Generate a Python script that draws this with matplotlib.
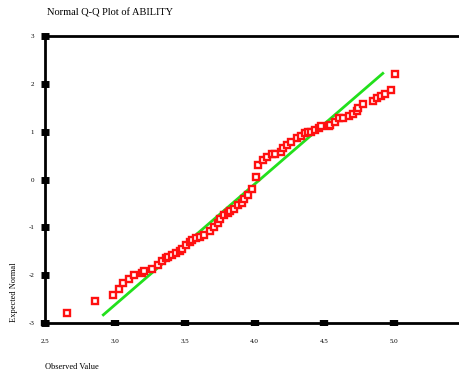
import matplotlib.pyplot as plt

# Normal Q-Q plot of ABILITY
observed = [2.654, 2.855, 2.984, 3.027, 3.056, 3.099, 3.135, 3.192, 3.207, 3.264,
            3.307, 3.336, 3.364, 3.379, 3.407, 3.436, 3.465, 3.479, 3.508, 3.537,
            3.551, 3.580, 3.608, 3.637, 3.680, 3.709, 3.738, 3.752, 3.781, 3.809,
            3.824, 3.852, 3.881, 3.910, 3.924, 3.953, 3.981, 4.010, 4.024, 4.060,
            4.089, 4.125, 4.146, 4.189, 4.204, 4.232, 4.261, 4.304, 4.333, 4.362,
            4.383, 4.405, 4.433, 4.462, 4.476, 4.534, 4.541, 4.577, 4.605, 4.634,
            4.677, 4.706, 4.735, 4.742, 4.778, 4.850, 4.878, 4.907, 4.936, 4.979,
            5.007]
expected = [-2.795, -2.544, -2.418, -2.293, -2.167, -2.084, -2.000, -1.958, -1.916, -1.874,
            -1.791, -1.707, -1.644, -1.623, -1.582, -1.540, -1.498, -1.456, -1.372, -1.310,
            -1.268, -1.226, -1.205, -1.163, -1.079, -0.996, -0.912, -0.828, -0.745, -0.703,
            -0.661, -0.619, -0.536, -0.494, -0.410, -0.326, -0.201, 0.050, 0.301, 0.406,
            0.469, 0.531, 0.531, 0.573, 0.657, 0.720, 0.782, 0.866, 0.908, 0.971,
            0.992, 0.992, 1.033, 1.075, 1.117, 1.117, 1.138, 1.201, 1.285, 1.285,
            1.326, 1.368, 1.431, 1.494, 1.577, 1.640, 1.703, 1.745, 1.787, 1.870,
            2.205]

# reference line
line_x = [2.915, 4.92]
line_y = [-2.83, 2.22]

xticks = [2.5, 3.0, 3.5, 4.0, 4.5, 5.0, 5.5]
yticks = [3, 2, 1, 0, -1, -2, -3]

plt.rcParams['font.family'] = 'Liberation Serif'

fig = plt.figure(figsize=(4.59, 3.76), dpi=100)
ax = fig.add_axes([0.0991, 0.141, 0.911, 0.763])

ax.plot(line_x, line_y, color='#22e01c', linewidth=2, zorder=2)
ax.plot(observed, expected, linestyle='none', marker='s', markersize=4.2,
        markerfacecolor='white', markeredgecolor='#ff1010', markeredgewidth=1.7, zorder=3)

ax.set_xlim(2.5, 5.5)
ax.set_ylim(-3, 3)
ax.set_xticks(xticks)
ax.set_xticklabels([f"{v:.1f}" for v in xticks])
ax.set_yticks(yticks)
ax.set_yticklabels([str(v) for v in yticks])

for s in ax.spines.values():
    s.set_linewidth(2)
    s.set_color('black')

ax.tick_params(axis='x', direction='inout', length=5, width=6, pad=9, labelsize=5)
ax.tick_params(axis='y', direction='inout', length=6, width=5, pad=5, labelsize=5)

fig.text(47 / 459, 1 - 13 / 376, "Normal Q-Q Plot of ABILITY", fontsize=7.5, va='center', ha='left')
fig.text(14 / 459, 1 - 322 / 376, "Expected Normal", fontsize=6, rotation=90, va='bottom', ha='center')
fig.text(45 / 459, 1 - 367 / 376, "Observed Value", fontsize=6, va='center', ha='left')

fig.savefig('out.png', dpi=100)
